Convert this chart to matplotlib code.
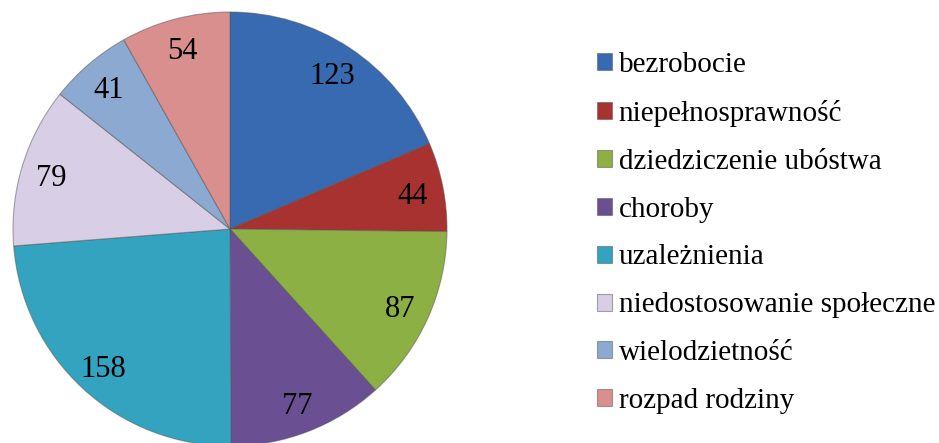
import matplotlib
matplotlib.use("Agg")
import matplotlib.pyplot as plt

plt.rcParams['font.family'] = ['Liberation Serif', 'DejaVu Serif']

categories = ["bezrobocie", "niepełnosprawność", "dziedziczenie ubóstwa", "choroby",
              "uzależnienia", "niedostosowanie społeczne", "wielodzietność", "rozpad rodziny"]
values = [123, 44, 87, 77, 158, 79, 41, 54]
colors = ["#376ab0", "#a8322f", "#8cb043", "#6a4f92", "#34a3c0", "#d8cee6", "#8ca9d2", "#d98f8e"]

W, H = 939, 443
fig = plt.figure(figsize=(W / 100, H / 100), dpi=100)

cx, cy, r = 230, 229, 217
ax = fig.add_axes([(cx - r) / W, (H - cy - r) / H, 2 * r / W, 2 * r / H])

wedges, texts = ax.pie(values, colors=colors, startangle=90, counterclock=False,
                       labels=[str(v) for v in values], labeldistance=0.86,
                       wedgeprops=dict(edgecolor="#55555580", linewidth=0.8),
                       textprops=dict(fontsize=22, color="black"))
for t in texts:
    t.set_ha("center")
    t.set_va("center_baseline")
ax.set_xlim(-1, 1)
ax.set_ylim(-1, 1)
ax.set_aspect("equal")

fig.legend(wedges, categories, loc="upper left", bbox_to_anchor=(597 / W, 1 - 52 / H),
           frameon=False, fontsize=21, borderpad=0, borderaxespad=0,
           handlelength=0.52, handleheight=0.52, handletextpad=0.22, labelspacing=0.75)

fig.savefig("out.png", dpi=100)
